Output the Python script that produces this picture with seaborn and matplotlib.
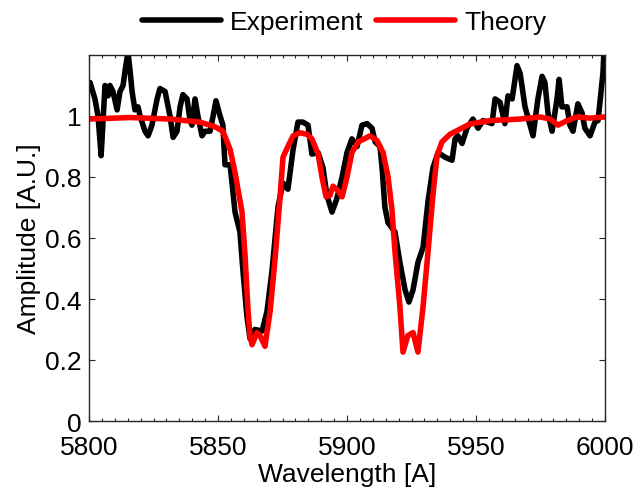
import numpy as np
import pandas as pd
import matplotlib
matplotlib.use("Agg")
import matplotlib.pyplot as plt
import seaborn as sns
from matplotlib.ticker import MultipleLocator

# ---- data ----
exp_wavelength = [5800.4, 5802.3, 5803.5, 5804.7, 5806.2, 5807.4, 5808.1, 5809.3, 5810.9, 5812.0,
                  5813.2, 5814.0, 5815.1, 5815.9, 5816.7, 5817.8, 5819.0, 5819.8, 5821.7, 5822.9,
                  5824.4, 5826.4, 5827.5, 5829.5, 5831.4, 5832.6, 5834.1, 5835.3, 5836.4, 5838.0,
                  5839.1, 5839.9, 5841.1, 5842.2, 5843.8, 5845.0, 5846.9, 5848.1, 5849.2, 5850.8,
                  5851.9, 5852.7, 5854.7, 5856.6, 5858.5, 5859.7, 5861.2, 5862.4, 5864.3, 5867.1,
                  5869.0, 5870.9, 5873.3, 5875.2, 5877.1, 5879.1, 5881.0, 5882.9, 5884.9, 5886.4,
                  5888.8, 5890.7, 5892.2, 5894.2, 5896.1, 5898.1, 5900.0, 5901.9, 5903.9, 5905.8,
                  5907.8, 5909.7, 5910.9, 5912.8, 5913.6, 5914.7, 5915.9, 5918.6, 5920.5, 5922.5,
                  5924.0, 5925.6, 5927.5, 5929.5, 5931.4, 5933.3, 5935.3, 5938.0, 5940.7, 5941.9,
                  5943.0, 5944.6, 5946.5, 5948.8, 5950.8, 5952.7, 5956.2, 5957.4, 5959.3, 5961.2,
                  5962.4, 5964.0, 5965.9, 5967.1, 5969.0, 5972.1, 5974.0, 5975.6, 5976.7, 5977.9,
                  5979.5, 5981.4, 5982.2, 5983.3, 5985.3, 5986.4, 5987.6, 5989.5, 5991.1, 5992.2,
                  5994.2, 5996.1, 5997.3, 5999.2, 6000.0]
exp_amplitude = [1.11, 1.056, 1.0, 0.87, 1.10, 1.066, 1.10, 1.08, 1.02, 1.08,
                 1.10, 1.15, 1.21, 1.15, 1.08, 1.02, 1.03, 1.0, 0.95, 0.935,
                 0.97, 1.056, 1.09, 1.08, 1.0, 0.93, 0.95, 1.03, 1.07, 1.056,
                 0.99, 0.97, 1.056, 1.0, 0.935, 0.95, 0.95, 1.0, 1.05, 1.0,
                 0.97, 0.84, 0.84, 0.685, 0.62, 0.49, 0.345, 0.27, 0.30, 0.295,
                 0.36, 0.49, 0.705, 0.78, 0.76, 0.89, 0.98, 0.98, 0.97, 0.875,
                 0.88, 0.83, 0.74, 0.685, 0.73, 0.80, 0.88, 0.925, 0.90, 0.97,
                 0.975, 0.96, 0.915, 0.90, 0.83, 0.70, 0.65, 0.62, 0.52, 0.43,
                 0.39, 0.43, 0.52, 0.57, 0.72, 0.83, 0.88, 0.865, 0.855, 0.925,
                 0.935, 0.91, 0.96, 0.99, 0.96, 0.985, 0.975, 1.056, 1.045, 0.975,
                 1.066, 1.056, 1.165, 1.14, 1.03, 0.935, 1.056, 1.13, 1.11, 1.01,
                 0.95, 1.056, 1.12, 1.03, 1.03, 0.97, 0.95, 1.04, 1.01, 0.96,
                 0.935, 0.98, 0.985, 1.14, 1.28]

th_wavelength = [5800.0, 5815.9, 5831.4, 5843.0, 5848.8, 5851.9, 5854.7, 5856.6, 5859.3, 5860.5,
                 5861.6, 5862.4, 5863.2, 5865.1, 5866.3, 5868.2, 5870.2, 5872.1, 5874.0, 5875.2,
                 5877.1, 5879.1, 5881.8, 5884.5, 5886.4, 5888.8, 5890.3, 5891.9, 5893.4, 5894.6,
                 5896.5, 5898.1, 5900.0, 5901.9, 5904.3, 5907.8, 5908.9, 5911.6, 5914.0, 5915.9,
                 5917.4, 5918.6, 5920.5, 5921.7, 5923.6, 5925.6, 5927.5, 5929.5, 5931.4, 5933.3,
                 5934.9, 5936.8, 5939.9, 5943.8, 5947.7, 5955.4, 5967.1, 5974.8, 5978.7, 5981.8,
                 5985.3, 5989.1, 5994.2, 6000.0]
th_amplitude = [0.99, 0.995, 0.99, 0.98, 0.965, 0.95, 0.89, 0.815, 0.685, 0.54,
                0.367, 0.28, 0.25, 0.29, 0.28, 0.245, 0.36, 0.53, 0.73, 0.865,
                0.90, 0.935, 0.945, 0.94, 0.925, 0.875, 0.80, 0.735, 0.74, 0.77,
                0.755, 0.735, 0.80, 0.88, 0.915, 0.93, 0.935, 0.92, 0.88, 0.80,
                0.695, 0.555, 0.377, 0.226, 0.28, 0.29, 0.226, 0.377, 0.555, 0.74,
                0.87, 0.915, 0.94, 0.957, 0.974, 0.985, 0.99, 0.997, 0.99, 0.97,
                0.985, 0.997, 0.993, 0.997]

x_ticks = [5800, 5850, 5900, 5950, 6000]
y_ticks = [0, 0.2, 0.4, 0.6, 0.8, 1]
y_tick_labels = ["0", "0.2", "0.4", "0.6", "0.8", "1"]

# ---- plotting ----
sns.set_theme(style="ticks")
plt.rcParams["font.family"] = ["Liberation Sans", "DejaVu Sans"]

FS = 19
fig = plt.figure(figsize=(6.39, 4.89), dpi=100)
ax = fig.add_axes([89 / 639, 1 - 422 / 489, (605 - 89) / 639, (422 - 56) / 489])

exp_df = pd.DataFrame({"Wavelength": exp_wavelength, "Amplitude": exp_amplitude})
th_df = pd.DataFrame({"Wavelength": th_wavelength, "Amplitude": th_amplitude})

sns.lineplot(data=exp_df, x="Wavelength", y="Amplitude", ax=ax, color="black",
             linewidth=4.0, sort=False, estimator=None, label="Experiment")
sns.lineplot(data=th_df, x="Wavelength", y="Amplitude", ax=ax, color="#ff0000",
             linewidth=4.0, sort=False, estimator=None, label="Theory")

ax.set_xlim(5800, 6000)
ax.set_ylim(0, 1.2)
ax.set_xticks(x_ticks)
ax.set_xticklabels([str(t) for t in x_ticks])
ax.set_yticks(y_ticks)
ax.set_yticklabels(y_tick_labels)
ax.xaxis.set_minor_locator(MultipleLocator(5))

ax.set_xlabel("Wavelength [A]", fontsize=FS, labelpad=2, color="black")
ax.set_ylabel("Amplitude [A.U.]", fontsize=FS, labelpad=3, color="black")

edge = "#262626"
for s in ax.spines.values():
    s.set_visible(True)
    s.set_color(edge)
    s.set_linewidth(1.0)
ax.tick_params(which="both", direction="in", top=True, right=True, colors=edge,
               labelcolor="black", labelsize=FS)
ax.tick_params(which="major", length=4.3, width=0.8)
ax.tick_params(axis="y", which="major", pad=5.5)
ax.tick_params(axis="x", which="major", pad=10)
ax.tick_params(which="minor", length=2.2, width=0.8)

leg = ax.legend(loc="center", bbox_to_anchor=(344 / 639, 1 - 23 / 489),
                bbox_transform=fig.transFigure, ncol=2, frameon=False,
                fontsize=FS, handlelength=3.0, handletextpad=0.35,
                columnspacing=0.45, borderpad=0)
for t in leg.get_texts():
    t.set_color("black")

fig.savefig("out.png", dpi=100)
